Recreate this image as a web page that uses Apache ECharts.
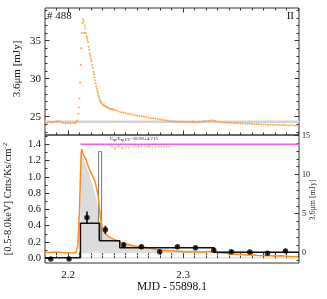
<!DOCTYPE html>
<html>
<head>
<meta charset="utf-8">
<script src="https://cdn.jsdelivr.net/npm/echarts@6/dist/echarts.min.js"></script>
<style>html,body{margin:0;padding:0;background:#fff}#c{width:327px;height:299px}</style>
</head>
<body>
<div id="c"></div>
<script>
// ---------- DATA ----------
// Top panel: 3.6 micron flux [mJy]
const irMjd = [2.180,2.182,2.184,2.186,2.188,2.190,2.192,2.194,2.196,2.198,2.200,2.202,2.204,2.206,2.207,2.208,2.209,2.2095,2.210,2.2105,2.211,2.2115,2.212,2.2125,2.213,2.2135,2.214,2.2145,2.215,2.2155,2.216,2.2165,2.217,2.2175,2.218,2.2185,2.219,2.2195,2.220,2.2205,2.221,2.2215,2.222,2.2225,2.223,2.2235,2.224,2.2245,2.225,2.2255,2.226,2.2265,2.227,2.2275,2.228,2.2285,2.229,2.230,2.231,2.232,2.233,2.234,2.235,2.236,2.237,2.238,2.239,2.240,2.242,2.244,2.246,2.248,2.250,2.252,2.254,2.256,2.258,2.260,2.262,2.264,2.266,2.268,2.270,2.272,2.274,2.276,2.278,2.280,2.282,2.284,2.286,2.288,2.290,2.292,2.294,2.296,2.298,2.300,2.302,2.304,2.306,2.308,2.310,2.312,2.314,2.316,2.318,2.320,2.322,2.324,2.326,2.328,2.330,2.332,2.334,2.336,2.338,2.340,2.342,2.344,2.346,2.348,2.350,2.352,2.354,2.356,2.358,2.360,2.362,2.364,2.366,2.368,2.370,2.372,2.374,2.376,2.378,2.380,2.382,2.384,2.386,2.388,2.390,2.392,2.394,2.396,2.398,2.400];
const irFlux = [24.28,24.22,24.30,24.25,24.33,24.38,24.45,24.30,24.20,24.15,24.18,24.12,24.20,24.16,24.30,24.5,25.4,26.2,27.4,29.5,31.8,34.0,36.0,37.3,37.8,37.5,36.0,37.0,36.6,36.0,35.6,35.4,35.1,34.8,34.2,33.8,33.3,33.0,32.6,32.3,31.8,31.4,30.9,30.6,30.2,29.8,29.4,29.0,28.7,28.4,28.1,27.8,27.6,27.3,27.1,26.9,26.8,26.6,26.5,26.4,26.3,26.2,26.2,26.1,26.0,26.05,25.95,25.9,25.85,25.7,25.6,25.55,25.5,25.4,25.35,25.3,25.2,25.15,25.1,25.05,25.0,25.0,24.85,24.8,24.8,24.75,24.7,24.65,24.6,24.55,24.5,24.45,24.42,24.4,24.38,24.35,24.33,24.35,24.3,24.32,24.3,24.35,24.3,24.25,24.3,24.35,24.4,24.4,24.45,24.5,24.55,24.45,24.35,24.3,24.25,24.25,24.2,24.2,24.22,24.15,24.18,24.15,24.1,24.12,24.1,24.05,24.1,24.05,24.0,24.05,24.0,24.0,23.98,24.0,23.95,23.98,23.95,23.92,23.95,23.9,23.92,23.95,23.88,23.85,23.9,23.85,23.82,23.85];
const irBandLow = 24.17, irBandHigh = 24.5;

// Bottom panel: IR light curve (orange line) in X-ray units
const lcMjd = [2.180,2.185,2.190,2.195,2.200,2.205,2.207,2.2085,2.210,2.211,2.2115,2.212,2.2125,2.213,2.214,2.2155,2.217,2.219,2.221,2.223,2.2245,2.226,2.227,2.228,2.229,2.230,2.232,2.234,2.236,2.240,2.245,2.250,2.255,2.260,2.265,2.270,2.275,2.280,2.285,2.290,2.295,2.300,2.305,2.310,2.315,2.320,2.325,2.330,2.335,2.340,2.345,2.350,2.355,2.360,2.365,2.370,2.375,2.380,2.385,2.390,2.395,2.400];
const lcVal = [0.070,0.072,0.078,0.070,0.065,0.068,0.075,0.15,0.60,1.10,1.30,1.34,1.32,1.28,1.26,1.22,1.15,1.08,1.02,0.96,0.88,0.78,0.66,0.52,0.42,0.36,0.31,0.28,0.26,0.23,0.20,0.18,0.16,0.145,0.14,0.125,0.115,0.10,0.095,0.09,0.085,0.08,0.078,0.082,0.075,0.08,0.085,0.07,0.065,0.055,0.05,0.045,0.04,0.042,0.035,0.03,0.032,0.028,0.03,0.025,0.02,0.022];

// Grey model (filled)
const modelMjd = [2.2108,2.2108,2.213,2.215,2.217,2.219,2.221,2.223,2.225,2.227,2.229,2.231,2.234,2.238,2.245,2.255,2.265,2.280,2.300,2.330,2.360,2.400];
const modelVal = [0.062,1.30,1.24,1.16,1.08,1.00,0.92,0.82,0.70,0.55,0.42,0.33,0.27,0.23,0.19,0.155,0.135,0.115,0.10,0.09,0.085,0.08];
const modelBase = 0.062;

// Binned X-ray histogram
const binEdges = [2.180,2.2108,2.2275,2.245,2.327,2.4008];
const binLevels = [0.007,0.43,0.216,0.13,0.074];

// X-ray points with errors
const xrayMjd = [2.185,2.2009,2.2165,2.2325,2.2484,2.2638,2.2797,2.2951,2.3108,2.3267,2.342,2.358,2.3734,2.389];
const xrayVal = [-0.01,-0.01,0.50,0.35,0.163,0.143,0.08,0.143,0.13,0.098,0.08,0.077,0.061,0.09];
const xrayErr = [0.012,0.012,0.075,0.05,0.035,0.025,0.02,0.02,0.02,0.02,0.02,0.02,0.02,0.02];

// White bar [x0, x1, y0, y1]
const whiteBar = [2.2266,2.2292,0.22,1.31];
// Magenta level line and dotted zero line
const magentaMjd = [2.2108,2.4008], magentaLevel = 1.40;
const dottedMjd = [2.2108,2.4008], dottedLevel = 0.004;

// Ticks
const xMajor = [2.2,2.3];
const xMinor = [2.19,2.21,2.22,2.23,2.24,2.25,2.26,2.27,2.28,2.29,2.31,2.32,2.33,2.34,2.35,2.36,2.37,2.38,2.39,2.40];
const topYMajor = [25,30,35];
const topYMinor = [23,24,26,27,28,29,31,32,33,34,36,37,38,39];
const botYMajor = [0.0,0.2,0.4,0.6,0.8,1.0,1.2,1.4];
const botYMinor = [0.1,0.3,0.5,0.7,0.9,1.1,1.3,1.5];
const rYMajor = [0,5,10,15];
const rYMinor = [-1,1,2,3,4,6,7,8,9,11,12,13,14];

// ---------- CHART ----------
const X_MIN = 2.18, X_MAX = 2.4008;
const TOP_MIN = 22.6, TOP_MAX = 39.3;
const BL_MIN = -0.058, BL_MAX = 1.514;
const BR_MIN = -1.32, BR_MAX = 15.06;
const FONT = 'Liberation Serif';
const TK = '#333';

function mkX(grid, pos, ticks, len, labels) {
  return {type:'value', gridIndex:grid, position:pos, min:X_MIN, max:X_MAX,
    axisLine:{show:false}, splitLine:{show:false},
    axisTick:{show:true, inside:true, length:len, customValues:ticks, lineStyle:{color:TK, width:1}},
    axisLabel: labels ? {show:true, customValues:labels, fontSize:11, margin:7, color:'#111', fontFamily:FONT,
      formatter:v=>v.toFixed(1)} : {show:false}};
}
function mkY(grid, pos, min, max, ticks, len, labels, fmt, fs) {
  return {type:'value', gridIndex:grid, position:pos, min:min, max:max,
    axisLine:{show:false}, splitLine:{show:false},
    axisTick:{show:true, inside:true, length:len, customValues:ticks, lineStyle:{color:TK, width:1}},
    axisLabel: labels ? {show:true, customValues:labels, fontSize:fs, margin:pos==='left'?4:3, color:'#111', fontFamily:FONT,
      formatter:fmt} : {show:false}};
}

const xAxes = [
  mkX(0,'bottom',xMajor,4.5,null), mkX(0,'bottom',xMinor,2.5,null),
  mkX(0,'top',xMajor,4.5,null), mkX(0,'top',xMinor,2.5,null),
  mkX(1,'bottom',xMajor,4.5,xMajor), mkX(1,'bottom',xMinor,2.5,null),
  mkX(1,'top',xMajor,4.5,null), mkX(1,'top',xMinor,2.5,null)
];
const yAxes = [
  mkY(0,'left',TOP_MIN,TOP_MAX,topYMajor,4.5,topYMajor,v=>String(v),11),
  mkY(0,'left',TOP_MIN,TOP_MAX,topYMinor,2.5,null),
  mkY(0,'right',TOP_MIN,TOP_MAX,topYMajor,4.5,null),
  mkY(0,'right',TOP_MIN,TOP_MAX,topYMinor,2.5,null),
  mkY(1,'left',BL_MIN,BL_MAX,botYMajor,4.5,botYMajor,v=>v.toFixed(1),10.5),
  mkY(1,'left',BL_MIN,BL_MAX,botYMinor,2.5,null),
  mkY(1,'right',BR_MIN,BR_MAX,rYMajor,4.5,rYMajor,v=>String(v),8),
  mkY(1,'right',BR_MIN,BR_MAX,rYMinor,2.5,null)
];

const histPts = [];
for (let i = 0; i < binLevels.length; i++) {
  histPts.push([binEdges[i], binLevels[i]]);
  histPts.push([binEdges[i+1], binLevels[i]]);
}

const chart = echarts.init(document.getElementById('c'), null, {renderer:'canvas'});
chart.setOption({
  animation:false,
  backgroundColor:'#fff',
  textStyle:{fontFamily:FONT},
  grid:[
    {left:45, top:8, width:254, height:127, show:true, borderColor:TK, borderWidth:1, backgroundColor:'transparent'},
    {left:45, top:135, width:254, height:128, show:true, borderColor:TK, borderWidth:1, backgroundColor:'transparent'}
  ],
  xAxis:xAxes,
  yAxis:yAxes,
  series:[
    {type:'scatter', xAxisIndex:0, yAxisIndex:0, symbol:'circle', symbolSize:2,
      itemStyle:{color:'#ff9020'}, z:3,
      data:irMjd.map((t,i)=>[t, irFlux[i]]),
      markArea:{silent:true, itemStyle:{color:'#d4d4d4'}, z:1,
        data:[[{xAxis:X_MIN, yAxis:irBandLow},{xAxis:X_MAX, yAxis:irBandHigh}]]}},
    {type:'line', xAxisIndex:4, yAxisIndex:4, symbol:'none', z:1,
      lineStyle:{width:0}, areaStyle:{color:'#dcdcdc', opacity:1, origin:modelBase},
      data:modelMjd.map((t,i)=>[t, modelVal[i]])},
    {type:'line', xAxisIndex:4, yAxisIndex:4, symbol:'none', z:2,
      lineStyle:{color:'#aaaaaa', width:1, type:'dotted'},
      data:dottedMjd.map(t=>[t, dottedLevel])},
    {type:'custom', xAxisIndex:4, yAxisIndex:4, z:3,
      renderItem:(params, api)=>{
        const p0 = api.coord([api.value(0), api.value(3)]);
        const p1 = api.coord([api.value(1), api.value(2)]);
        return {type:'rect', shape:{x:p0[0], y:p0[1], width:p1[0]-p0[0], height:p1[1]-p0[1]},
          style:{fill:'#ffffff', stroke:'#777777', lineWidth:1}};
      },
      data:[whiteBar]},
    {type:'line', xAxisIndex:4, yAxisIndex:4, symbol:'none', z:4,
      lineStyle:{color:'#ff8c1a', width:1.5},
      data:lcMjd.map((t,i)=>[t, lcVal[i]])},
    {type:'line', xAxisIndex:4, yAxisIndex:4, symbol:'none', z:5,
      lineStyle:{color:'#ff55ff', width:1.5},
      data:magentaMjd.map(t=>[t, magentaLevel])},
    {type:'line', xAxisIndex:4, yAxisIndex:4, symbol:'none', z:6,
      lineStyle:{color:'#111111', width:1.5},
      data:histPts},
    {type:'custom', xAxisIndex:4, yAxisIndex:4, z:7,
      renderItem:(params, api)=>{
        const x = api.value(0), y = api.value(1), e = api.value(2);
        const a = api.coord([x, y-e]), b = api.coord([x, y+e]);
        return {type:'line', shape:{x1:a[0], y1:a[1], x2:b[0], y2:b[1]}, style:{stroke:'#000', lineWidth:1.5}};
      },
      data:xrayMjd.map((t,i)=>[t, xrayVal[i], xrayErr[i]])},
    {type:'scatter', xAxisIndex:4, yAxisIndex:4, symbol:'circle', symbolSize:5.5, z:8,
      itemStyle:{color:'#000'},
      data:xrayMjd.map((t,i)=>[t, xrayVal[i]])}
  ],
  graphic:[
    {type:'text', x:47, y:16, style:{text:'# 488', font:'11px "Liberation Serif"', fill:'#111', align:'left', verticalAlign:'middle'}},
    {type:'text', x:294, y:16, style:{text:'II', font:'11px "Liberation Serif"', fill:'#111', align:'right', verticalAlign:'middle'}},
    {type:'text', x:17, y:69, rotation:Math.PI/2, style:{text:'3.6μm [mJy]', font:'11px "Liberation Serif"', fill:'#111', align:'center', verticalAlign:'middle'}},
    {type:'text', x:8, y:199, rotation:Math.PI/2, style:{
      text:'{n|[0.5-8.0keV] Cnts/Ks/cm}{s|-2}', align:'center', verticalAlign:'middle',
      rich:{n:{fontSize:10.5, fontFamily:FONT, fill:'#111', lineHeight:13}, s:{fontSize:7, fontFamily:FONT, fill:'#111', lineHeight:13, verticalAlign:'top'}}}},
    {type:'text', x:313, y:200, rotation:Math.PI/2, style:{text:'3.6μm [mJy]', font:'8px "Liberation Serif"', fill:'#333', align:'center', verticalAlign:'middle'}},
    {type:'text', x:172, y:287, style:{text:'MJD - 55898.1', font:'11.5px "Liberation Serif"', fill:'#111', align:'center', verticalAlign:'middle'}},
    {type:'text', x:110, y:139, style:{
      text:'{n|E}{s|ap}{n|/E}{s|ap,UV}{n|=18.90±4.715}', align:'left', verticalAlign:'middle',
      rich:{n:{fontSize:5, fontFamily:FONT, fill:'#222', lineHeight:6}, s:{fontSize:3.5, fontFamily:FONT, fill:'#222', lineHeight:6, verticalAlign:'bottom'}}}},
    {type:'text', x:110, y:147, style:{
      text:'{n|E}{s|ap}{n|/E}{s|ap,UV}{n|=1561.590±118.510}', align:'left', verticalAlign:'middle',
      rich:{n:{fontSize:5, fontFamily:FONT, fill:'#ff9020', lineHeight:6}, s:{fontSize:3.5, fontFamily:FONT, fill:'#ff9020', lineHeight:6, verticalAlign:'bottom'}}}}
  ]
});
</script>
</body>
</html>
